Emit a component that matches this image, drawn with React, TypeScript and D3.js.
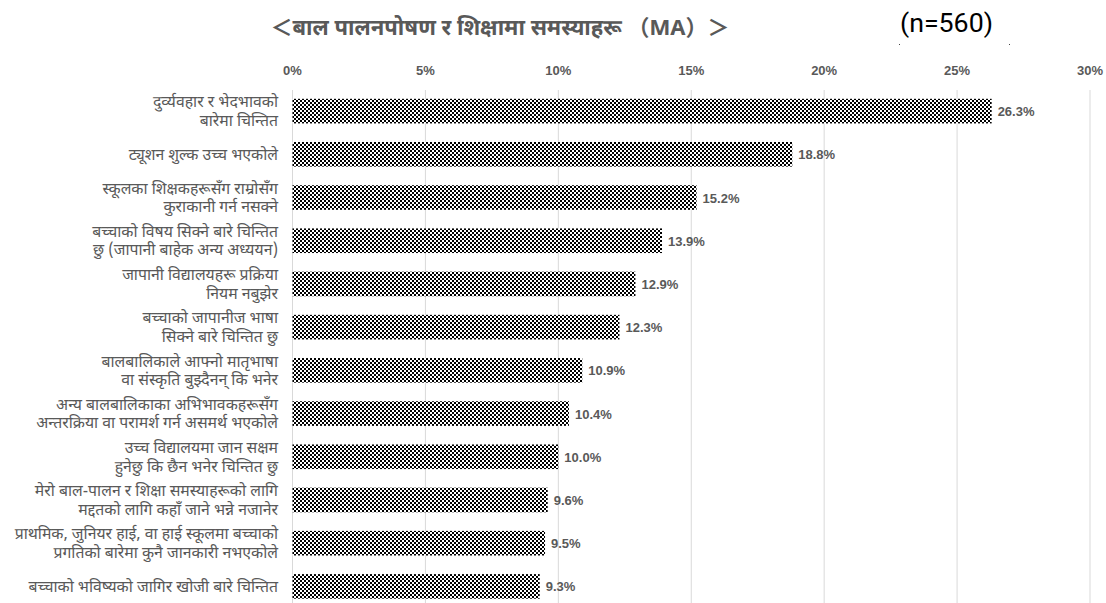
import React from "react";
import * as d3 from "d3";

const categories: string[][] = [
  ["दुर्व्यवहार र भेदभावको", "बारेमा चिन्तित"],
  ["ट्यूशन शुल्क उच्च भएकोले"],
  ["स्कूलका शिक्षकहरूसँग राम्रोसँग", "कुराकानी गर्न नसक्ने"],
  ["बच्चाको विषय सिक्ने बारे चिन्तित", "छु (जापानी बाहेक अन्य अध्ययन)"],
  ["जापानी विद्यालयहरू प्रक्रिया", "नियम नबुझेर"],
  ["बच्चाको जापानीज भाषा", "सिक्ने बारे चिन्तित छु"],
  ["बालबालिकाले आफ्नो मातृभाषा", "वा संस्कृति बुझ्दैनन् कि भनेर"],
  ["अन्य बालबालिकाका अभिभावकहरूसँग", "अन्तरक्रिया वा परामर्श गर्न असमर्थ भएकोले"],
  ["उच्च विद्यालयमा जान सक्षम", "हुनेछु कि छैन भनेर चिन्तित छु"],
  ["मेरो बाल-पालन र शिक्षा समस्याहरूको लागि", "मद्दतको लागि कहाँ जाने भन्ने नजानेर"],
  ["प्राथमिक, जुनियर हाई, वा हाई स्कूलमा बच्चाको", "प्रगतिको बारेमा कुनै जानकारी नभएकोले"],
  ["बच्चाको भविष्यको जागिर खोजी बारे चिन्तित"],
];
const values: number[] = [26.3, 18.8, 15.2, 13.9, 12.9, 12.3, 10.9, 10.4, 10.0, 9.6, 9.5, 9.3];
const ticks: number[] = [0, 5, 10, 15, 20, 25, 30];
const title = "＜बाल पालनपोषण र शिक्षामा समस्याहरू （MA）＞";
const nLabel = "(n=560)";

const W = 1106;
const H = 603;
const grey = "#595959";
const devFont = "'Noto Sans Devanagari', 'Noto Sans', 'Noto Sans CJK JP', sans-serif";
const numFont = "'Liberation Sans', Arial, sans-serif";

export default function App() {
  const x = d3.scaleLinear().domain([0, 30]).range([292.5, 1090]);
  const idx = categories.map((_, i) => String(i));
  const y = d3.scaleBand().domain(idx).range([89.5, 608]).paddingInner(0.43).paddingOuter(0.215);
  const bw = y.bandwidth();

  return (
    <svg width={W} height={H} style={{ position: "absolute", left: 0, top: 0, background: "#fff" }}>
      <defs>
        <pattern id="checker" width={4} height={4} patternUnits="userSpaceOnUse">
          <rect width={4} height={4} fill="#fff" />
          <rect x={0} y={0} width={2} height={2} fill="#000" />
          <rect x={2} y={2} width={2} height={2} fill="#000" />
        </pattern>
      </defs>
      <text x={500} y={35} textAnchor="middle" fontFamily={devFont} fontSize={22} fontWeight={700} fill={grey}>
        {title}
      </text>
      <text x={900} y={32} fontFamily={"'Roboto', 'Liberation Sans', sans-serif"} fontSize={25} fill="#000"
        textLength={93} lengthAdjust="spacingAndGlyphs">
        {nLabel}
      </text>
      <rect x={899} y={44} width={1} height={1} fill="#444" />
      <rect x={1009} y={44} width={1} height={1} fill="#444" />
      {ticks.map((t) => (
        <g key={t}>
          <line x1={x(t)} x2={x(t)} y1={90} y2={H} stroke="#d9d9d9" strokeWidth={1} />
          <text x={x(t)} y={75} textAnchor="middle" fontFamily={numFont} fontSize={13} fontWeight={700} fill={grey}>
            {t}%
          </text>
        </g>
      ))}
      {values.map((v, i) => {
        const yy = y(String(i))!;
        return (
          <g key={i}>
            <rect x={x(0)} y={yy} width={x(v) - x(0)} height={bw} fill="url(#checker)" />
            <text x={x(v) + 6} y={yy + bw / 2 + 5} fontFamily={numFont} fontSize={13} fontWeight={700} fill={grey}>
              {v.toFixed(1)}%
            </text>
          </g>
        );
      })}
      {categories.map((lines, i) => {
        const cy = y(String(i))! + bw / 2;
        const lh = 18.5;
        const start = cy - ((lines.length - 1) * lh) / 2 + 5.5;
        return (
          <text key={i} textAnchor="end" fontFamily={devFont} fontSize={15.8} fill={grey}>
            {lines.map((l, j) => (
              <tspan key={j} x={278} y={start + j * lh}>
                {l}
              </tspan>
            ))}
          </text>
        );
      })}
    </svg>
  );
}
